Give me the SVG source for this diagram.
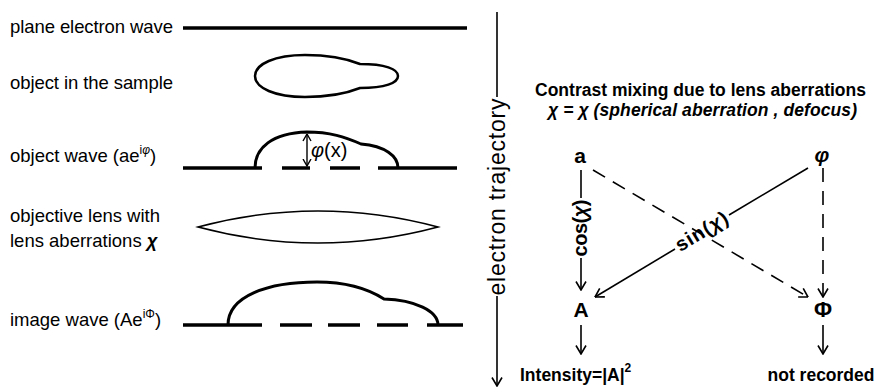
<svg xmlns="http://www.w3.org/2000/svg" width="878" height="390" viewBox="0 0 878 390">
<style>
.lbl{font-family:"Liberation Sans",Arial,sans-serif;font-size:18.5px;fill:#000}
.b{font-family:"Liberation Sans",Arial,sans-serif;font-weight:bold;fill:#000}
.thick{stroke:#000;stroke-width:3.5;fill:none;stroke-linecap:butt}
.bump{stroke:#000;stroke-width:3;fill:none}
.thin{stroke:#000;stroke-width:1.6;fill:none}
.dash{stroke-dasharray:14 9}
</style>
<defs>
<marker id="ah" viewBox="0 0 10 12" refX="9.5" refY="6" markerWidth="10" markerHeight="12" markerUnits="userSpaceOnUse" orient="auto-start-reverse">
<path d="M1,1 L9.5,6 L1,11" fill="none" stroke="#000" stroke-width="1.6" stroke-dasharray="none"/>
</marker>
<marker id="ahs" viewBox="0 0 8 10" refX="7.5" refY="5" markerWidth="8" markerHeight="10" markerUnits="userSpaceOnUse" orient="auto-start-reverse">
<path d="M0.5,1 L7.5,5 L0.5,9" fill="none" stroke="#000" stroke-width="1.4"/>
</marker>
</defs>

<g id="plane-wave">
<text class="lbl" x="10" y="33" textLength="163">plane electron wave</text>
<line class="thick" x1="183" y1="28" x2="467" y2="28"/>
</g>

<g id="object-sample">
<text class="lbl" x="10" y="89" textLength="163">object in the sample</text>
<path class="thin" style="stroke-width:2.5" d="M360,64 C340,56 320,55 305,55 C275,55 255,64 255,76 C255,88 275,97 305,97 C320,97 340,96 360,88 C385,88 398,83 398,76 C398,69 385,64 360,64 Z"/>
</g>

<g id="object-wave">
<text class="lbl" x="10" y="162">object wave (ae<tspan font-size="12" dy="-8">i</tspan><tspan font-size="12" font-style="italic">φ</tspan><tspan dy="8">)</tspan></text>
<line class="thick" x1="183" y1="168" x2="262" y2="168"/>
<line class="thick" x1="282" y1="168" x2="310" y2="168"/>
<line class="thick" x1="330" y1="168" x2="360" y2="168"/>
<line class="thick" x1="378" y1="168" x2="457" y2="168"/>
<path class="bump" d="M255,168 C255,148 272,133 307,132 C330,132 345,137 361,144 C385,146 398,156 398,168"/>
<line class="thin" style="stroke-width:1.4" x1="307" y1="134" x2="307" y2="166" marker-start="url(#ahs)" marker-end="url(#ahs)"/>
<text x="311" y="157" style="font-family:'Liberation Sans',Arial,sans-serif;font-size:20px"><tspan font-style="italic">φ</tspan>(x)</text>
</g>

<g id="objective-lens">
<text class="lbl" x="10" y="222" textLength="150">objective lens with</text>
<text class="lbl" x="10" y="247">lens aberrations <tspan font-weight="bold" font-style="italic">χ</tspan></text>
<path class="thin" style="stroke-width:1.5" d="M198,227 Q318,195 438,227 Q318,259 198,227 Z"/>
</g>

<g id="image-wave">
<text class="lbl" x="10" y="326">image wave (Ae<tspan font-size="12" dy="-8">iΦ</tspan><tspan dy="8">)</tspan></text>
<line class="thick" x1="183" y1="325" x2="262" y2="325"/>
<line class="thick" x1="280" y1="325" x2="312" y2="325"/>
<line class="thick" x1="328" y1="325" x2="360" y2="325"/>
<line class="thick" x1="377" y1="325" x2="408" y2="325"/>
<line class="thick" x1="427" y1="325" x2="463" y2="325"/>
<path class="bump" d="M228,325 C228,296 268,282 317,282 C350,282 370,290 384,299 C415,300 438,311 438,325"/>
</g>

<g id="electron-trajectory">
<line class="thin" x1="497" y1="12" x2="497" y2="97"/>
<line class="thin" x1="497" y1="296" x2="497" y2="386" marker-end="url(#ah)"/>
<text transform="translate(497,197) rotate(-90)" x="0" y="8" text-anchor="middle" textLength="197" style="font-family:'Liberation Sans',Arial,sans-serif;font-size:23px">electron trajectory</text>
</g>

<g id="title">
<text class="b" x="535" y="96" font-size="17.5" textLength="331">Contrast mixing due to lens aberrations</text>
<text class="b" x="548" y="116" font-size="17.5" font-style="italic" textLength="309">χ = χ (spherical aberration , defocus)</text>
</g>

<g id="node-a"><text class="b" x="580" y="163" font-size="21" text-anchor="middle">a</text></g>
<g id="node-phi"><text class="b" x="822" y="162" font-size="21" font-style="italic" text-anchor="middle">φ</text></g>
<g id="node-A"><text class="b" x="581" y="317" font-size="21" text-anchor="middle">A</text></g>
<g id="node-Phi"><text class="b" x="823" y="317" font-size="22" text-anchor="middle">Φ</text></g>
<g id="node-intensity"><text class="b" x="520" y="381" font-size="17.5">Intensity=|A|<tspan font-size="12" dy="-9">2</tspan></text></g>
<g id="node-not-recorded"><text class="b" x="821" y="381" font-size="17.5" text-anchor="middle">not recorded</text></g>

<g id="connectors">
<line class="thin" x1="581" y1="170" x2="581" y2="198"/>
<line class="thin" x1="581" y1="258" x2="581" y2="290" marker-end="url(#ah)"/>
<text class="b" transform="translate(581,228) rotate(-90)" x="0" y="6" font-size="20" text-anchor="middle" textLength="57">cos(<tspan font-style="italic">χ</tspan>)</text>
<line class="thin dash" x1="593" y1="170" x2="808" y2="297" marker-end="url(#ah)"/>
<line class="thin" x1="808" y1="168" x2="729" y2="215"/>
<line class="thin" x1="675" y1="249" x2="595" y2="297" marker-end="url(#ah)"/>
<text class="b" transform="translate(702,232) rotate(-31.2)" x="0" y="6" font-size="20" text-anchor="middle" textLength="58">sin(<tspan font-style="italic">χ</tspan>)</text>
<line class="thin dash" x1="823" y1="168" x2="823" y2="297" marker-end="url(#ah)"/>
<line class="thin" x1="581" y1="325" x2="581" y2="354" marker-end="url(#ah)"/>
<line class="thin" x1="823" y1="325" x2="823" y2="354" marker-end="url(#ah)"/>
</g>
</svg>
